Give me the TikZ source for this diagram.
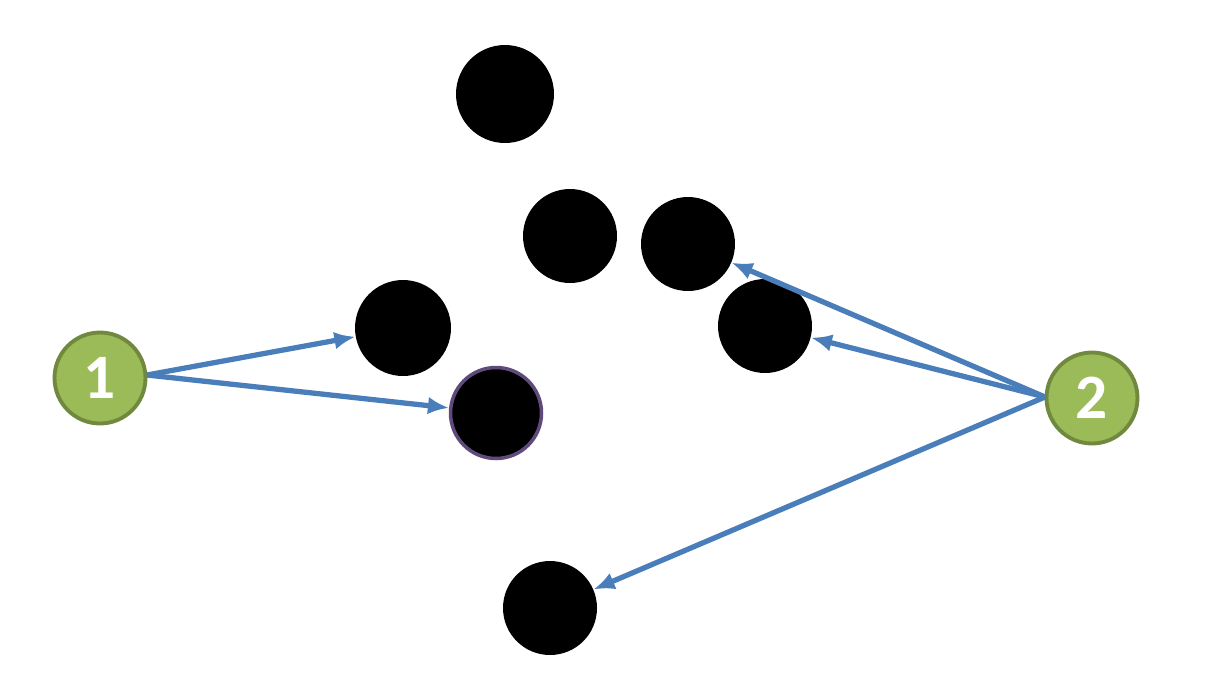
\documentclass[tikz,border=0pt]{standalone}
\usepackage{fontspec}
\setmainfont{Carlito}
\begin{document}
\begin{tikzpicture}[x=0.02cm,y=-0.02cm,
  dot/.style={circle,fill=black,minimum size=1.88cm,inner sep=0pt},
  num/.style={circle,fill=green!50!olive!60!white,fill={rgb,255:red,155;green,187;blue,89},draw={rgb,255:red,113;green,137;blue,63},line width=2.2pt,minimum size=1.82cm,inner sep=0pt,text=white,font=\bfseries\fontsize{36}{36}\selectfont},
  arr/.style={draw={rgb,255:red,74;green,126;blue,187},line width=3pt,-{Latex[length=12pt,width=10pt]}}]
\usetikzlibrary{arrows.meta}
\useasboundingbox (0,0) rectangle (1207,691);
\node[dot,minimum size=1.96cm] (a) at (505,94) {};
\node[dot] (b) at (570,236) {};
\node[dot] (c) at (688,244) {};
\node[dot,minimum size=1.92cm] (d) at (403,328) {};
\node[dot] (e) at (765,326) {};
\node[dot,draw={rgb,255:red,96;green,74;blue,123},line width=2pt,minimum size=1.82cm] (f) at (496,413) {};
\node[dot] (g) at (550,608) {};
\node[num] (n1) at (100,378) {1};
\node[num] (n2) at (1092,398) {2};
\coordinate (s1) at (147,375);
\coordinate (s2) at (1045,397);
\draw[arr] (s1) -- (d);
\draw[arr] (s1) -- (f);
\draw[arr] (s2) -- (c);
\draw[arr] (s2) -- (e);
\draw[arr] (s2) -- (g);
\end{tikzpicture}
\end{document}
